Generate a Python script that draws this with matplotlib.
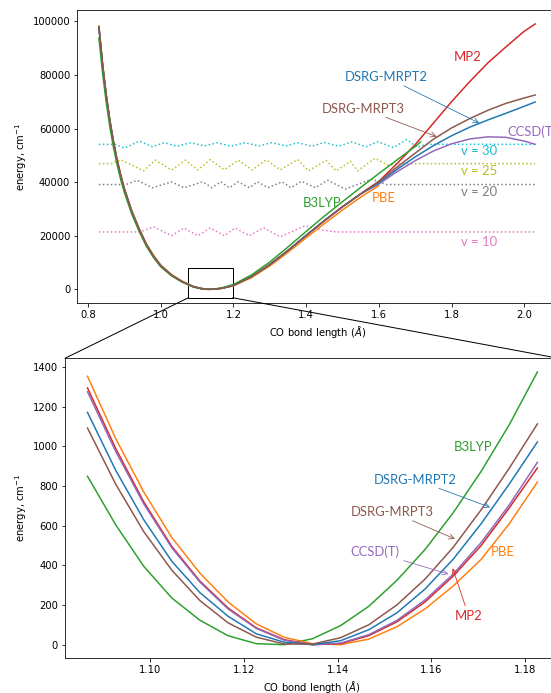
import numpy as np
import matplotlib
matplotlib.use("Agg")
import matplotlib.pyplot as plt
from matplotlib.patches import Rectangle, ConnectionPatch

# --- potential energy curves, full range (angstrom, cm^-1) ---
r_top = [0.83, 0.84, 0.85, 0.86, 0.87, 0.88, 0.89, 0.90, 0.92, 0.94, 0.96, 0.98, 1.00,
         1.03, 1.06, 1.09, 1.11, 1.13, 1.15, 1.17, 1.20, 1.25, 1.30, 1.35, 1.40, 1.45,
         1.50, 1.55, 1.60, 1.65, 1.70, 1.75, 1.80, 1.85, 1.90, 1.95, 2.00, 2.03]
short_e = [97900, 84000, 72500, 63000, 55000, 48200, 42400, 37400, 29200, 22600, 16800,
           12400, 8800, 5300, 2800, 1000, 330, 0, 60, 450, 1450, 4750, 9250, 14500, 20100,
           25600, 30800, 35600]
mp2_tail = [40300, 46900, 54000, 62000, 70000, 77500, 84500, 90500, 96300, 99000]
mrpt2_tail = [39700, 44800, 49400, 53600, 57300, 60500, 63200, 65700, 68300, 69900]
mrpt3_tail = [40200, 45600, 50800, 56000, 60200, 63700, 66800, 69400, 71400, 72500]
ccsdt_tail = [39300, 43900, 48000, 51600, 54300, 56100, 56900, 56700, 55300, 54100]

r_b3lyp = [0.83, 0.84, 0.85, 0.86, 0.87, 0.88, 0.89, 0.90, 0.92, 0.94, 0.96, 0.98, 1.00,
           1.03, 1.06, 1.09, 1.11, 1.13, 1.15, 1.17, 1.20, 1.25, 1.30, 1.35, 1.40, 1.45,
           1.50, 1.55, 1.60, 1.65, 1.70, 1.715]
e_b3lyp = [93800, 80800, 69800, 60700, 53000, 46500, 40900, 36100, 28200, 21800, 16200,
           11900, 8400, 5000, 2600, 850, 230, 10, 160, 650, 1800, 5400, 10200, 15800,
           21600, 27300, 32700, 38000, 43200, 48300, 53300, 55000]
r_pbe = [0.83, 0.84, 0.85, 0.86, 0.87, 0.88, 0.89, 0.90, 0.92, 0.94, 0.96, 0.98, 1.00,
         1.03, 1.06, 1.09, 1.11, 1.13, 1.15, 1.17, 1.20, 1.25, 1.30, 1.35, 1.40, 1.45,
         1.50, 1.55, 1.60]
e_pbe = [98300, 84400, 72900, 63400, 55400, 48600, 42800, 37800, 29600, 23000, 17200,
         12800, 9100, 5500, 2950, 1080, 380, 10, 20, 360, 1300, 4400, 8700, 13800, 19200,
         24500, 29600, 34400, 38700]

# --- vibrational levels (dotted) ---
v10_r = [0.83, 0.943, 0.981, 1.030, 1.064, 1.102, 1.136, 1.175, 1.205, 1.244, 1.283,
         1.329, 1.397, 1.445, 1.483, 2.03]
v10_e = [21400, 21400, 23300, 20000, 22900, 20000, 22900, 20000, 22900, 20000, 23000,
         19600, 23700, 22100, 21400, 21400]
v20_r = [0.83, 0.905, 0.935, 0.977, 1.030, 1.064, 1.115, 1.141, 1.165, 1.189, 1.213,
         1.244, 1.266, 1.295, 1.334, 1.358, 1.387, 1.426, 1.459, 1.508, 1.580, 1.62, 2.03]
v20_e = [39100, 39100, 40700, 37900, 40100, 37900, 40100, 37900, 40100, 37900, 40100,
         37900, 40100, 37900, 40100, 37900, 40300, 37900, 40700, 37400, 41100, 39100, 39100]
v25_r = [0.83, 0.865, 0.890, 0.953, 0.985, 1.030, 1.068, 1.102, 1.136, 1.175, 1.213,
         1.252, 1.290, 1.329, 1.377, 1.406, 1.455, 1.483, 1.522, 1.541, 1.590, 1.624,
         1.65, 2.03]
v25_e = [46900, 46900, 48400, 44200, 48200, 44500, 48200, 44500, 48400, 44600, 48200,
         44500, 48300, 44600, 48400, 44200, 48100, 44200, 47800, 44200, 48900, 46300,
         46900, 46900]
v30_r = [0.83, 0.875, 0.90, 0.941, 0.977, 1.01, 1.045, 1.083, 1.12, 1.155, 1.193,
         1.232, 1.27, 1.305, 1.345, 1.377, 1.415, 1.45, 1.49, 1.525, 1.565, 1.597, 1.64,
         1.677, 1.705, 1.73, 2.03]
v30_e = [54100, 54100, 52700, 55300, 53200, 54700, 53400, 54700, 53500, 54700, 53400,
         54700, 53500, 54700, 53500, 54700, 53400, 54800, 53400, 55000, 53200, 55100,
         52900, 55900, 53000, 54100, 54100]

# --- zoom near the minimum ---
r_zoom = [1.0866, 1.0926, 1.0986, 1.1046, 1.1106, 1.1166, 1.1226, 1.1286, 1.1346,
          1.1406, 1.1466, 1.1526, 1.1586, 1.1646, 1.1706, 1.1766, 1.1826]
z_b3lyp = [849, 605, 395, 235, 123, 45, 5, 0, 30, 96, 193, 324, 479, 664, 874, 1109, 1375]
z_pbe = [1353, 1040, 770, 540, 360, 215, 105, 37, 5, 0, 28, 90, 180, 295, 430, 610, 820]
z_mp2 = [1294, 990, 720, 495, 320, 185, 85, 25, 0, 5, 45, 115, 215, 345, 500, 690, 891]
z_ccsdt = [1275, 975, 710, 488, 315, 180, 82, 22, 0, 8, 50, 122, 225, 355, 515, 705, 919]
z_mrpt2 = [1171, 880, 630, 420, 262, 143, 55, 12, 0, 20, 75, 160, 280, 430, 610, 810, 1022]
z_mrpt3 = [1092, 810, 570, 375, 222, 110, 38, 3, 3, 35, 100, 200, 330, 490, 680, 890, 1113]

lab_font = "Lato"
W, H = 551, 693
DPI = 72
fig = plt.figure(figsize=(W / DPI, H / DPI), dpi=DPI)
ax = fig.add_axes([77.3 / W, 1 - 302.7 / H, (557 - 77.3) / W, 292.4 / H])
ax2 = fig.add_axes([65 / W, 1 - 658.3 / H, (558.5 - 65) / W, 300 / H])

# top panel
ax.plot(v10_r, v10_e, ':', color='tab:pink', lw=1.5)
ax.plot(v20_r, v20_e, ':', color='tab:gray', lw=1.5)
ax.plot(v25_r, v25_e, ':', color='tab:olive', lw=1.5)
ax.plot(v30_r, v30_e, ':', color='tab:cyan', lw=1.5)
ax.plot(r_top, short_e + mp2_tail, color='tab:red', lw=1.5)
ax.plot(r_pbe, e_pbe, color='tab:orange', lw=1.5)
ax.plot(r_top, short_e + ccsdt_tail, color='tab:purple', lw=1.5)
ax.plot(r_top, short_e + mrpt2_tail, color='tab:blue', lw=1.5)
ax.plot(r_b3lyp, e_b3lyp, color='tab:green', lw=1.5)
ax.plot(r_top, short_e + mrpt3_tail, color='tab:brown', lw=1.5)

ax.set_xlim(0.7706, 2.09)
ax.set_ylim(-4985, 104100)
ax.set_xticks([0.8, 1.0, 1.2, 1.4, 1.6, 1.8, 2.0])
ax.set_yticks([0, 20000, 40000, 60000, 80000, 100000])
ax.set_xlabel(r'CO bond length ($\AA$)')
ax.set_ylabel(r'energy, cm$^{-1}$')

kw = dict(fontsize=13, family=lab_font, ha='center', va='center')
ax.text(1.8436, 86700, 'MP2', color='tab:red', **kw)
ax.annotate('DSRG-MRPT2', xy=(1.881, 61700), xytext=(1.619, 79250), color='tab:blue',
            arrowprops=dict(arrowstyle='->', color='tab:blue', lw=0.8), **kw)
ax.annotate('DSRG-MRPT3', xy=(1.764, 56700), xytext=(1.556, 67450), color='tab:brown',
            arrowprops=dict(arrowstyle='->', color='tab:brown', lw=0.8), **kw)
ax.text(1.954, 58760, 'CCSD(T)', color='tab:purple', fontsize=13, family=lab_font,
        ha='left', va='center')
ax.text(1.443, 32050, 'B3LYP', color='tab:green', **kw)
ax.text(1.612, 34160, 'PBE', color='tab:orange', **kw)
ax.text(1.877, 51550, 'v = 30', color='tab:cyan', **kw)
ax.text(1.877, 44100, 'v = 25', color='tab:olive', **kw)
ax.text(1.877, 36400, 'v = 20', color='tab:gray', **kw)
ax.text(1.877, 17760, 'v = 10', color='tab:pink', **kw)

# inset marker
rx0, rx1, ry0, ry1 = 1.076, 1.198, -3134, 8060
ax.add_patch(Rectangle((rx0, ry0), rx1 - rx0, ry1 - ry0, fill=False, ec='black', lw=1))
for xa, xb in [(rx0, 0), (rx1, 1)]:
    con = ConnectionPatch(xyA=(xa, ry0), coordsA=ax.transData, xyB=(xb, 1),
                          coordsB=ax2.transAxes, color='black', lw=1)
    fig.add_artist(con)

# bottom panel
ax2.plot(r_zoom, z_b3lyp, color='tab:green', lw=1.5)
ax2.plot(r_zoom, z_pbe, color='tab:orange', lw=1.5)
ax2.plot(r_zoom, z_mp2, color='tab:red', lw=1.5)
ax2.plot(r_zoom, z_ccsdt, color='tab:purple', lw=1.5)
ax2.plot(r_zoom, z_mrpt2, color='tab:blue', lw=1.5)
ax2.plot(r_zoom, z_mrpt3, color='tab:brown', lw=1.5)
ax2.set_xlim(1.0818, 1.1871)
ax2.set_ylim(-68.75, 1443.75)
ax2.set_xticks([1.10, 1.12, 1.14, 1.16, 1.18])
ax2.set_yticks([0, 200, 400, 600, 800, 1000, 1200, 1400])
ax2.set_xlabel(r'CO bond length ($\AA$)')
ax2.set_ylabel(r'energy, cm$^{-1}$')

ax2.text(1.1688, 997, 'B3LYP', color='tab:green', **kw)
ax2.annotate('DSRG-MRPT2', xy=(1.1729, 689), xytext=(1.1566, 832), color='tab:blue',
             arrowprops=dict(arrowstyle='->', color='tab:blue', lw=0.8), **kw)
ax2.annotate('DSRG-MRPT3', xy=(1.1654, 529), xytext=(1.1516, 669), color='tab:brown',
             arrowprops=dict(arrowstyle='->', color='tab:brown', lw=0.8), **kw)
ax2.annotate('CCSD(T)', xy=(1.164, 353), xytext=(1.148, 467), color='tab:purple',
             arrowprops=dict(arrowstyle='->', color='tab:purple', lw=0.8), **kw)
ax2.annotate('MP2', xy=(1.1644, 395), xytext=(1.1679, 146), color='tab:red',
             arrowprops=dict(arrowstyle='->', color='tab:red', lw=0.8), **kw)
ax2.text(1.1752, 467, 'PBE', color='tab:orange', **kw)

fig.savefig('out.png', dpi=DPI)
